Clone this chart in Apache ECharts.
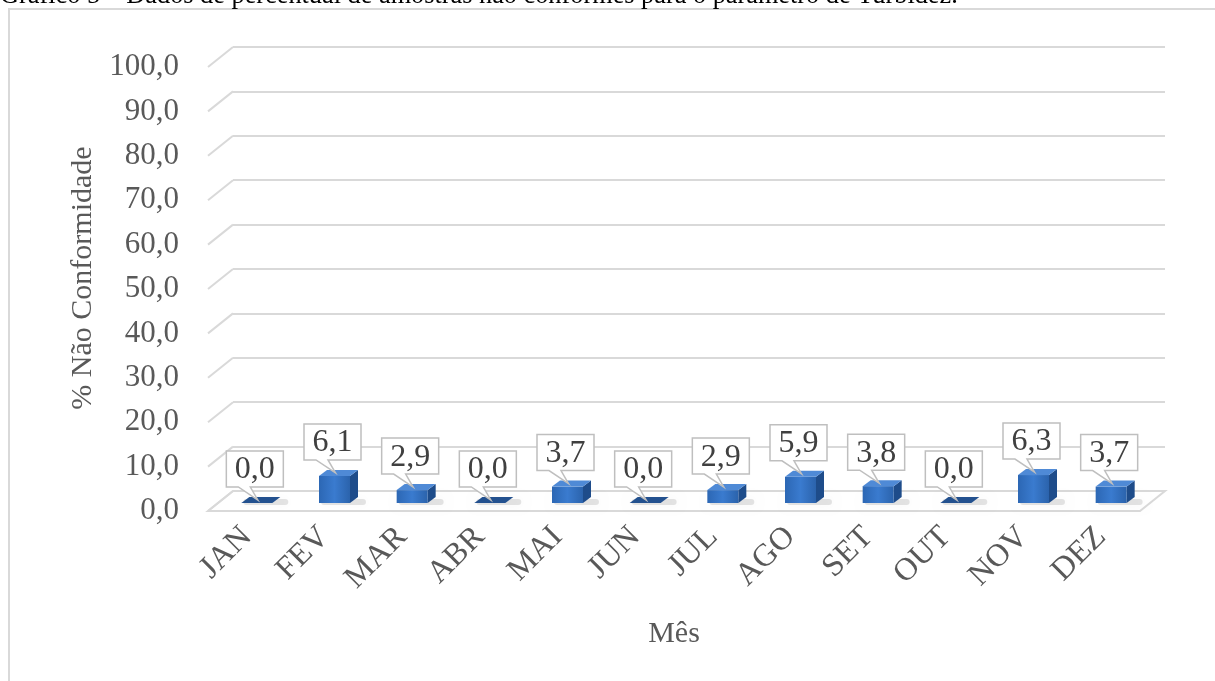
<!DOCTYPE html>
<html><head><meta charset="utf-8">
<script src="https://cdn.jsdelivr.net/npm/echarts@6/dist/echarts.min.js"></script>
<style>html,body{margin:0;padding:0;background:#fff}#c{width:1215px;height:681px}</style>
</head><body><div id="c"></div>
<script>
const months = ['JAN','FEV','MAR','ABR','MAI','JUN','JUL','AGO','SET','OUT','NOV','DEZ'];
const values = [0.0, 6.1, 2.9, 0.0, 3.7, 0.0, 2.9, 5.9, 3.8, 0.0, 6.3, 3.7];
const yTicks = [0, 10, 20, 30, 40, 50, 60, 70, 80, 90, 100];
const titleText = 'Gráfico 5 – Dados de percentual de amostras não conformes para o parâmetro de Turbidez.';
const yName = '% Não Conformidade';
const xName = 'Mês';

const SERIF = "'Liberation Serif','Times New Roman',serif";
const fmt = v => v.toFixed(1).replace('.', ',');
const DX = -25, DY = 20;     // back wall -> front plane
const BX = -15, BY = 12;     // back wall -> bar plane

const chart = echarts.init(document.getElementById('c'));
chart.setOption({
  animation: false,
  backgroundColor: '#fff',
  graphic: [
    { type: 'rect', shape: { x: 9, y: 9, width: 1300, height: 800 }, style: { fill: 'none', stroke: '#D9D9D9', lineWidth: 2 }, z: -10 },
    { type: 'text', x: 0, y: 9, style: { text: titleText, font: '26.3px ' + SERIF, fill: '#000', textVerticalAlign: 'bottom' } }
  ],
  grid: [
    { left: 208, right: 75, top: 67, bottom: 170 },
    { left: 233, right: 50, top: 47, bottom: 190 }
  ],
  xAxis: [
    { type: 'category', gridIndex: 0, data: months,
      axisLine: { show: false }, axisTick: { show: false },
      axisLabel: { rotate: 45, margin: 21, fontSize: 32, fontFamily: SERIF, color: '#595959' },
      name: xName, nameLocation: 'middle', nameGap: 108,
      nameTextStyle: { fontSize: 30, fontFamily: SERIF, color: '#595959' } },
    { type: 'category', gridIndex: 1, data: months, show: false }
  ],
  yAxis: [
    { type: 'value', gridIndex: 0, min: 0, max: 100, interval: 10,
      axisLine: { show: false }, axisTick: { show: false }, splitLine: { show: false },
      axisLabel: { formatter: v => fmt(v), margin: 29, fontSize: 31, fontFamily: SERIF, color: '#595959' },
      name: yName, nameLocation: 'middle', nameGap: 110,
      nameTextStyle: { fontSize: 30, fontFamily: SERIF, color: '#595959', padding: [0, 0, 0, 22] } },
    { type: 'value', gridIndex: 1, min: 0, max: 100, interval: 10,
      axisLine: { show: false }, axisTick: { show: false }, axisLabel: { show: false },
      splitLine: { show: true, lineStyle: { color: '#D9D9D9', width: 2 } } }
  ],
  series: [
    { type: 'custom', xAxisIndex: 1, yAxisIndex: 1, z: 1,
      data: yTicks.map(v => [0, v]),
      renderItem: (params, api) => {
        const cs = params.coordSys;
        const v = api.value(1);
        const y = api.coord([0, v])[1];
        const children = [];
        if (v === 0) {
          children.push({ type: 'polygon', shape: { points: [[cs.x, y], [cs.x + cs.width, y], [cs.x + cs.width + DX, y + DY], [cs.x + DX, y + DY]] },
            style: { fill: '#fff', stroke: '#D9D9D9', lineWidth: 2 } });
        }
        children.push({ type: 'line', shape: { x1: cs.x, y1: y, x2: cs.x + DX, y2: y + DY }, style: { stroke: '#D9D9D9', lineWidth: 2 } });
        return { type: 'group', children };
      } },
    { type: 'custom', xAxisIndex: 1, yAxisIndex: 1, z: 5,
      data: values.map((v, i) => [i, v]),
      renderItem: (params, api) => {
        const i = api.value(0), v = api.value(1);
        const top = api.coord([i, v]), base = api.coord([i, 0]);
        const w = 31, d = 8, dd = 6;
        const cx = top[0] + BX;
        const x0 = cx - w / 2, x1 = cx + w / 2;
        const yt = top[1] + BY, yb = base[1] + BY;
        const zero = v === 0;
        const children = [
          { type: 'rect', shape: { x: x0 + 2, y: yb - 4, width: w + d + 6, height: 6, r: 3 },
            style: { fill: 'rgba(0,0,0,0.10)', shadowBlur: 10, shadowColor: 'rgba(0,0,0,0.30)' } },
          { type: 'polygon', shape: { points: [[x1, yt], [x1 + d, yt - dd], [x1 + d, yb - dd], [x1, yb]] },
            style: { fill: '#1E4C8A' } },
          { type: 'rect', shape: { x: x0, y: yt, width: w, height: yb - yt },
            style: { fill: new echarts.graphic.LinearGradient(0, 0, 1, 0, [
              { offset: 0, color: '#2C67B4' }, { offset: 0.5, color: '#3A7BCF' }, { offset: 1, color: '#2B63AC' }]) } },
          { type: 'polygon', shape: { points: [[x0, yt], [x1, yt], [x1 + d, yt - dd], [x0 + d, yt - dd]] },
            style: { fill: zero ? '#23518F' : '#4F8AD6' } }
        ];
        const bw = 57, bh = 36;
        const L = cx - bw / 2 - 2, R = L + bw;
        const B = yt - 16, T = B - bh;
        children.push({ type: 'polygon', shape: { points: [[L, T], [R, T], [R, B], [L + 24, B], [cx + 1, yt - 3], [L + 12, B], [L, B]] },
          style: { fill: '#fff', stroke: '#BFBFBF', lineWidth: 1.5 } });
        children.push({ type: 'text', x: (L + R) / 2, y: (T + B) / 2 + 1,
          style: { text: fmt(v), font: '32px ' + SERIF, fill: '#404040', textAlign: 'center', textVerticalAlign: 'middle' } });
        return { type: 'group', children };
      } }
  ]
});
</script></body></html>
